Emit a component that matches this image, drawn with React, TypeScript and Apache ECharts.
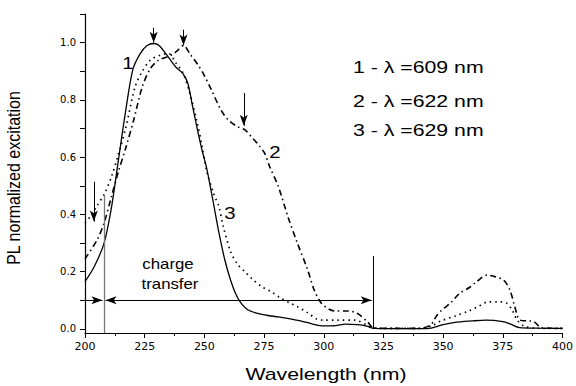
import React, { useEffect, useRef } from "react";
import * as echarts from "echarts";

// [wavelength nm, normalized PL excitation]
const curve1: [number, number][] = [
  [200, 0.165], [204, 0.22], [208, 0.3], [211, 0.42], [214, 0.59], [217, 0.76], [220, 0.905],
  [223, 0.96], [226, 0.99], [229, 0.997], [231, 0.99], [234, 0.96], [238, 0.915], [241, 0.892],
  [243, 0.86], [245, 0.78], [247, 0.7], [249, 0.625], [251, 0.56], [254, 0.43], [256, 0.34],
  [258.6, 0.24], [261, 0.17], [263, 0.125], [265, 0.095], [268, 0.068], [272, 0.055], [276, 0.048],
  [281, 0.042], [286, 0.035], [291, 0.027], [295, 0.018], [300, 0.011], [305, 0.012], [309, 0.017],
  [314, 0.015], [318, 0.01], [321, 0.002], [330, 0.001], [340, 0.001], [345, 0.003], [350, 0.015],
  [355, 0.023], [362, 0.028], [368, 0.031], [375, 0.026], [378, 0.018], [382, 0.005], [390, 0.003],
  [400, 0.002],
];

const curve2: [number, number][] = [
  [200, 0.245], [205, 0.31], [208, 0.37], [211, 0.46], [214, 0.55], [217, 0.63], [220.4, 0.73],
  [224, 0.846], [227.4, 0.91], [230.8, 0.939], [234.3, 0.95], [237, 0.96], [239, 0.975], [241.3, 0.99],
  [244, 0.96], [247.5, 0.92], [250, 0.885], [253, 0.834], [257, 0.764], [260, 0.73], [264, 0.706],
  [267, 0.695], [270, 0.668], [273, 0.64], [275.3, 0.613], [277.4, 0.566], [281, 0.497], [285, 0.392],
  [289, 0.299], [293.3, 0.206], [296, 0.136], [299, 0.09], [302, 0.07], [304.5, 0.063], [310, 0.063],
  [314, 0.055], [318.3, 0.025], [321, 0.004], [330, 0.002], [340, 0.002], [344.7, 0.014], [347.5, 0.049],
  [350, 0.07], [353, 0.09], [357, 0.125], [361, 0.145], [364, 0.165], [368.3, 0.188], [372, 0.182],
  [375.3, 0.171], [378, 0.136], [380, 0.078], [382.2, 0.031], [386, 0.028], [388, 0.026], [391, 0.005],
  [400, 0.002],
];

const curve3: [number, number][] = [
  [200, 0.37], [202, 0.39], [205, 0.43], [208, 0.47], [211, 0.53], [214, 0.61], [217, 0.7],
  [221, 0.846], [224, 0.9], [227.4, 0.939], [231.5, 0.956], [235, 0.962], [238, 0.93], [241, 0.895],
  [244, 0.82], [247, 0.72], [249, 0.64], [251, 0.55], [254, 0.47], [256, 0.43], [258, 0.355],
  [261, 0.27], [264, 0.225], [267, 0.2], [270, 0.175], [274, 0.148], [278, 0.13], [282, 0.108],
  [286, 0.09], [289, 0.078], [293, 0.058], [297, 0.035], [300, 0.031], [306, 0.031], [313, 0.031],
  [318, 0.014], [321, 0.003], [330, 0.002], [340, 0.002], [345, 0.01], [349, 0.028], [355, 0.045],
  [361, 0.064], [365, 0.08], [369, 0.095], [373, 0.095], [376.7, 0.09], [379, 0.065], [381, 0.031],
  [384, 0.01], [388, 0.003], [400, 0.002],
];

const yLabelValues = [0, 0.2, 0.4, 0.6, 0.8, 1.0];
const yTickValues = [0, 0.1, 0.2, 0.3, 0.4, 0.5, 0.6, 0.7, 0.8, 0.9, 1.0, 1.1];

// down-pointing arrows marking maxima: [x, yFrom, yTo]
const peakArrows: [number, number, number][] = [
  [228.75, 1.052, 1.0],
  [241.25, 1.045, 0.99],
  [266.5, 0.824, 0.71],
  [203.7, 0.514, 0.375],
];

const legendLines = ["1 - λ =609 nm", "2 - λ =622 nm", "3 - λ =629 nm"];
const curveNames = ["1", "2", "3"];
const xName = "Wavelength (nm)";
const yName = "PL normalized excitation";

const FONT = "'Liberation Sans', Arial, sans-serif";
const TICK_FONT = "'DejaVu Sans', sans-serif";

export default function App() {
  const ref = useRef<HTMLDivElement>(null);
  useEffect(() => {
    if (!ref.current) return;
    const chart = echarts.init(ref.current, null, { renderer: "svg" });

    const arrowEnd = { symbol: "arrow", symbolSize: [6, 11] };
    const markData: any[] = [];
    peakArrows.forEach(([x, y0, y1]) => {
      markData.push([
        { coord: [x, y0], symbol: "none" },
        { coord: [x, y1], ...arrowEnd },
      ]);
    });
    // charge-transfer arrows
    markData.push([
      { coord: [200, 0.1], symbol: "none" },
      { coord: [207.3, 0.1], ...arrowEnd },
    ]);
    markData.push([
      { coord: [208.6, 0.1], ...arrowEnd },
      { coord: [320.1, 0.1], ...arrowEnd },
    ]);
    markData.push([
      { coord: [320.7, 0.003], symbol: "none" },
      { coord: [320.7, 0.255], symbol: "none" },
    ]);
    markData.push([
      {
        coord: [208, -0.014],
        symbol: "none",
        lineStyle: { color: "#777", width: 1.3, type: "solid" },
      },
      { coord: [208, 0.468], symbol: "none" },
    ]);

    const txt = (text: string, x: number, y: number, size: number, extra: any = {}) => ({
      type: "text",
      x,
      y,
      ...extra,
      style: {
        text,
        font: `${size}px ${FONT}`,
        fill: "#000",
        textAlign: extra.align || "center",
        textVerticalAlign: "middle",
      },
    });

    const option: any = {
      animation: false,
      backgroundColor: "#fff",
      grid: { left: 85, right: 10, top: 14, bottom: 53, containLabel: false },
      xAxis: {
        type: "value",
        min: 200,
        max: 400,
        interval: 25,
        axisLine: { onZero: false, lineStyle: { color: "#000", width: 1.2 } },
        axisTick: { show: true, inside: false, length: 5, lineStyle: { color: "#000" } },
        minorTick: { show: true, splitNumber: 2, length: 3, lineStyle: { color: "#000" } },
        axisLabel: { fontFamily: TICK_FONT, fontSize: 11, color: "#000", margin: 8 },
        splitLine: { show: false },
        minorSplitLine: { show: false },
      },
      yAxis: {
        type: "value",
        min: -0.014,
        max: 1.1,
        axisLine: { show: true, lineStyle: { color: "#000", width: 1.2 } },
        axisTick: {
          show: true,
          length: 5,
          customValues: yTickValues,
          lineStyle: { color: "#000" },
        },
        axisLabel: {
          fontFamily: TICK_FONT,
          fontSize: 10,
          color: "#000",
          margin: 9,
          customValues: yLabelValues,
          formatter: (v: number) => v.toFixed(1),
        },
        splitLine: { show: false },
      },
      series: [
        {
          name: "1",
          type: "line",
          data: curve1,
          showSymbol: false,
          smooth: 0.3,
          lineStyle: { color: "#000", width: 1.3, type: "solid" },
          z: 3,
          markLine: {
            silent: true,
            symbol: "none",
            label: { show: false },
            lineStyle: { color: "#000", width: 1, type: "solid" },
            data: markData,
          },
        },
        {
          name: "2",
          type: "line",
          data: curve2,
          showSymbol: false,
          smooth: 0.3,
          lineStyle: { color: "#000", width: 1.6, type: [6, 3.5, 1.5, 3.5] },
        },
        {
          name: "3",
          type: "line",
          data: curve3,
          showSymbol: false,
          smooth: 0.3,
          lineStyle: { color: "#000", width: 1.7, type: [1.5, 4] },
        },
      ],
      graphic: [
        txt(curveNames[0], 128, 63, 17, { scaleX: 1.2 }),
        txt(curveNames[1], 275, 152, 17, { scaleX: 1.2 }),
        txt(curveNames[2], 230, 213, 17, { scaleX: 1.2 }),
        ...legendLines.map((t, i) =>
          txt(t, 353, [67, 101, 130][i], 16, { align: "left", scaleX: 1.33 })
        ),
        txt("charge", 168, 264, 14, { scaleX: 1.2 }),
        txt("transfer", 170, 284, 14, { scaleX: 1.2 }),
        txt(xName, 326, 374, 16, { scaleX: 1.33 }),
        txt(yName, 14, 178, 16, { rotation: Math.PI / 2, scaleY: 1.15 }),
      ],
    };
    chart.setOption(option);
    return () => chart.dispose();
  }, []);
  return <div ref={ref} style={{ width: 576, height: 386, position: "absolute", left: 0, top: 0 }} />;
}
